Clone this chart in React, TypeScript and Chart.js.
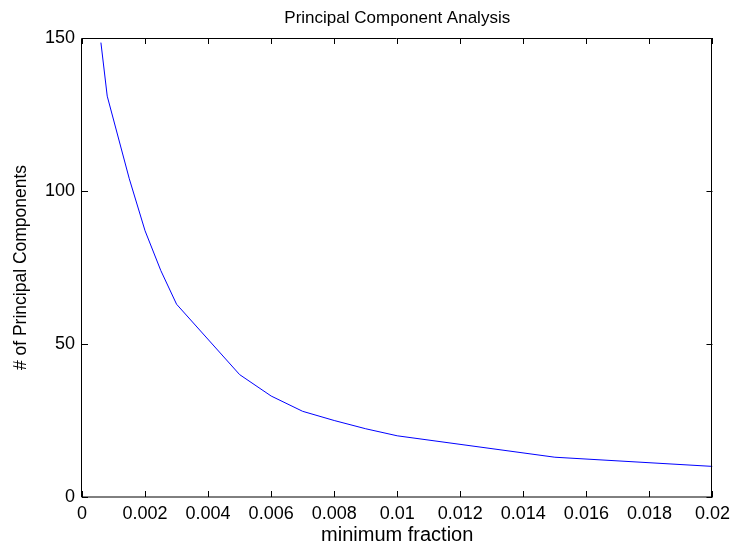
import React, { useEffect, useRef } from "react";
import { Chart, registerables } from "chart.js";

Chart.register(...registerables);

const minFraction = [0.0006, 0.0008, 0.0015, 0.002, 0.0025, 0.003, 0.005, 0.006, 0.007, 0.008, 0.009, 0.01, 0.015, 0.02];
const numComponents = [148.5, 131, 104, 87, 74, 63, 40, 33, 28, 25, 22.3, 20, 13, 10];
const xTicks = [0, 0.002, 0.004, 0.006, 0.008, 0.01, 0.012, 0.014, 0.016, 0.018, 0.02];
const yTicks = [0, 50, 100, 150];
const titleText = "Principal Component Analysis";
const xLabel = "minimum fraction";
const yLabel = "# of Principal Components";

const FONT = "'Liberation Sans', Arial, Helvetica, sans-serif";

const boxPlugin = {
  id: "matlabBox",
  afterDraw(chart: any) {
    const { ctx, chartArea } = chart;
    const { left, right, top, bottom } = chartArea;
    const xs = chart.scales.x;
    const ys = chart.scales.y;
    const tl = 6;
    ctx.save();
    ctx.strokeStyle = "#000";
    ctx.lineWidth = 1;
    ctx.beginPath();
    xTicks.forEach((v) => {
      const px = Math.round(xs.getPixelForValue(v)) + 0.5;
      ctx.moveTo(px, bottom);
      ctx.lineTo(px, bottom - tl);
      ctx.moveTo(px, top);
      ctx.lineTo(px, top + tl);
    });
    yTicks.forEach((v) => {
      const py = Math.round(ys.getPixelForValue(v)) + 0.5;
      ctx.moveTo(left, py);
      ctx.lineTo(left + tl, py);
      ctx.moveTo(right, py);
      ctx.lineTo(right - tl, py);
    });
    ctx.stroke();
    ctx.beginPath();
    ctx.rect(Math.round(left) - 0.5, Math.round(top) + 0.5, Math.round(right - left), Math.round(bottom - top) - 0.5);
    ctx.stroke();
    ctx.restore();
  },
};

export default function App() {
  const ref = useRef<HTMLCanvasElement>(null);
  useEffect(() => {
    if (!ref.current) return;
    const chart = new Chart(ref.current, {
      type: "line",
      data: {
        datasets: [
          {
            data: minFraction.map((x, i) => ({ x, y: numComponents[i] })),
            borderColor: "#0000ff",
            borderWidth: 1,
            pointRadius: 0,
            fill: false,
            tension: 0,
          },
        ],
      },
      options: {
        responsive: false,
        animation: false,
        layout: { padding: { left: 0, right: 21, top: 0, bottom: 0 } },
        plugins: { legend: { display: false }, tooltip: { enabled: false }, title: { display: false } },
        scales: {
          x: {
            type: "linear",
            position: "bottom",
            min: 0,
            max: 0.02,
            afterBuildTicks: (s: any) => {
              s.ticks = xTicks.map((v) => ({ value: v }));
            },
            afterFit: (s: any) => {
              s.height = 48;
            },
            grid: { display: false, drawTicks: false },
            border: { display: false },
            ticks: {
              color: "#000",
              padding: 6,
              maxRotation: 0,
              autoSkip: false,
              font: { family: FONT, size: 18 },
              callback: (v: any) => String(Number(Number(v).toFixed(4))),
            },
            title: {
              display: true,
              text: xLabel,
              color: "#000",
              font: { family: FONT, size: 20, lineHeight: 1 },
              padding: { top: 0, bottom: 0 },
            },
          },
          x2: {
            type: "linear",
            position: "top",
            min: 0,
            max: 1,
            afterFit: (s: any) => {
              s.height = 38;
            },
            grid: { display: false, drawTicks: false },
            border: { display: false },
            ticks: { display: false },
            title: {
              display: true,
              text: titleText,
              color: "#000",
              font: { family: FONT, size: 17, lineHeight: 1 },
              padding: { top: 10, bottom: 0 },
            },
          },
          y: {
            type: "linear",
            position: "left",
            min: 0,
            max: 150,
            afterBuildTicks: (s: any) => {
              s.ticks = yTicks.map((v) => ({ value: v }));
            },
            afterFit: (s: any) => {
              s.width = 82;
            },
            grid: { display: false, drawTicks: false },
            border: { display: false },
            ticks: {
              color: "#000",
              padding: 7,
              font: { family: FONT, size: 18 },
            },
            title: {
              display: true,
              text: yLabel,
              color: "#000",
              font: { family: FONT, size: 17.5, lineHeight: 1.2 },
              padding: { top: 11, bottom: 0 },
            },
          },
        },
      },
      plugins: [boxPlugin],
    });
    return () => chart.destroy();
  }, []);
  return (
    <div style={{ position: "absolute", left: 0, top: 0, width: 736, height: 545, background: "#fff" }}>
      <canvas ref={ref} width={736} height={545} style={{ display: "block" }} />
    </div>
  );
}
